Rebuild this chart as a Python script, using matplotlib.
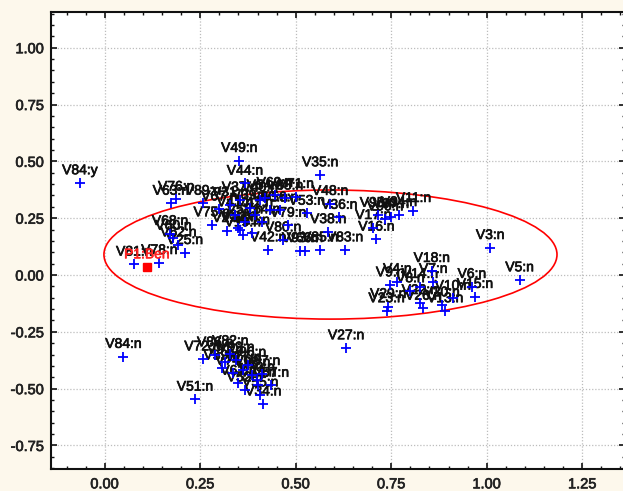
import matplotlib
matplotlib.use("Agg")
import matplotlib.pyplot as plt
import matplotlib.patheffects as pe
from matplotlib.patches import Ellipse
from matplotlib.ticker import MultipleLocator, FormatStrFormatter

plt.rcParams['font.family'] = ['Liberation Sans', 'DejaVu Sans']

# Active variable coordinates (dimension 1, dimension 2)
var_labels = [
    "V84:y", "V84:n", "V51:n", "V72:n", "V34:n", "V81:n", "V78:n", "V27:n",
    "V3:n", "V5:n", "V49:n", "V44:n", "V35:n", "V11:n", "V53:n", "V88:n",
    "V48:n", "V79:n", "V36:n", "V38:n", "V42:n", "V83:n", "V80:n", "V93:n",
    "V66:n", "V85:n", "V16:n", "V90:n", "V97:n", "V17:n", "V94:n", "V95:n",
    "V76:n", "V63:n", "V89:n", "V75:n", "V68:n", "V62:n", "V60:n", "V25:n",
    "V2:n", "V12:n", "V19:n", "V21:n", "V30:n", "V31:n", "V37:n", "V39:n",
    "V40:n", "V41:n", "V47:n", "V50:n", "V54:n", "V56:n", "V58:n", "V64:n",
    "V67:n", "V69:n", "V71:n",
    "V18:n", "V7:n", "V14:n", "V4:n", "V9:n", "V6:n", "V15:n", "V10:n",
    "V13:n", "V20:n", "V26:n", "V22:n", "V23:n", "V29:n", "V8:n",
    "V82:n", "V87:n", "V57:n", "V59:n", "V61:n", "V70:n", "V73:n", "V74:n",
    "V77:n", "V86:n", "V91:n", "V96:n", "V98:n", "V99:n", "V52:n", "V55:n",
]
dim1 = [
    -0.065, 0.049, 0.236, 0.256, 0.415, 0.077, 0.143, 0.632,
    1.009, 1.086, 0.352, 0.367, 0.564, 0.808, 0.529, 0.472,
    0.590, 0.480, 0.614, 0.585, 0.428, 0.629, 0.467, 0.511,
    0.524, 0.564, 0.711, 0.734, 0.749, 0.703, 0.770, 0.715,
    0.187, 0.173, 0.257, 0.280, 0.171, 0.193, 0.180, 0.210,
    0.319, 0.354, 0.361, 0.385, 0.349, 0.328, 0.354, 0.380,
    0.406, 0.341, 0.393, 0.432, 0.419, 0.459, 0.367, 0.412,
    0.300, 0.445, 0.500,
    0.856, 0.860, 0.825, 0.766, 0.747, 0.961, 0.969, 0.911,
    0.891, 0.882, 0.834, 0.825, 0.738, 0.742, 0.800,
    0.329, 0.412, 0.435, 0.306, 0.350, 0.398, 0.402, 0.337,
    0.363, 0.289, 0.315, 0.375, 0.386, 0.344, 0.367, 0.407,
]
dim2 = [
    0.405, -0.359, -0.547, -0.370, -0.568, 0.047, 0.054, -0.321,
    0.120, -0.022, 0.503, 0.403, 0.440, 0.283, 0.271, 0.338,
    0.314, 0.218, 0.253, 0.190, 0.110, 0.110, 0.154, 0.107,
    0.107, 0.110, 0.157, 0.246, 0.257, 0.208, 0.265, 0.262,
    0.333, 0.315, 0.315, 0.220, 0.182, 0.132, 0.161, 0.098,
    0.195, 0.198, 0.176, 0.185, 0.207, 0.308, 0.330, 0.295,
    0.330, 0.264, 0.264, 0.286, 0.339, 0.286, 0.233, 0.233,
    0.290, 0.350, 0.345,
    0.019, -0.029, -0.051, -0.029, -0.044, -0.051, -0.095, -0.103,
    -0.158, -0.132, -0.147, -0.122, -0.158, -0.139, -0.070,
    -0.346, -0.434, -0.486, -0.410, -0.477, -0.462, -0.484, -0.432,
    -0.418, -0.352, -0.383, -0.396, -0.440, -0.374, -0.506, -0.528,
]

# Supplementary point
supp_labels = ["P1:Ben"]
supp_dim1 = [0.110]
supp_dim2 = [0.035]

# Ellipse around the main group
ell_center = (0.591, 0.090)
ell_width = 1.186
ell_height = 0.568

x_ticks = [0.00, 0.25, 0.50, 0.75, 1.00, 1.25]
y_ticks = [-0.75, -0.50, -0.25, 0.00, 0.25, 0.50, 0.75, 1.00]

W, H = 623, 491
fig = plt.figure(figsize=(W / 100, H / 100), dpi=100, facecolor="#fdf8ec")
ax = fig.add_axes([51 / W, (H - 469) / H, (624.5 - 51) / W, (469 - 12.5) / H])
ax.set_facecolor("white")

ax.set_xlim(-0.1406, 1.3607)
ax.set_ylim(-0.8535, 1.1549)

ax.set_xticks(x_ticks)
ax.set_yticks(y_ticks)
ax.xaxis.set_minor_locator(MultipleLocator(0.05))
ax.yaxis.set_minor_locator(MultipleLocator(0.05))
ax.xaxis.set_major_formatter(FormatStrFormatter("%.2f"))
ax.yaxis.set_major_formatter(FormatStrFormatter("%.2f"))

ax.grid(True, which="major", color="#bdbdbd", linestyle=(0, (1, 1.5)), linewidth=0.9)
ax.set_axisbelow(True)

for s in ax.spines.values():
    s.set_linewidth(1.5)
    s.set_color("#111111")

ax.tick_params(which="both", direction="in", top=True, right=True,
               colors="#111111", labelcolor="#222222", labelsize=10.5)
ax.tick_params(which="major", length=4, width=1.2)
ax.tick_params(which="minor", length=2.5, width=1.0)
ax.tick_params(axis="y", pad=5)
ax.tick_params(axis="x", pad=6)

bold_dark = [pe.withStroke(linewidth=0.5, foreground="#222222")]
for t in ax.get_xticklabels() + ax.get_yticklabels():
    t.set_path_effects(bold_dark)

ax.add_patch(Ellipse(ell_center, ell_width, ell_height, fill=False,
                     edgecolor="#ff0000", linewidth=1.2, zorder=3))

label_fx = [pe.withStroke(linewidth=0.5, foreground="#111111")]
for lab, xv, yv in zip(var_labels, dim1, dim2):
    ax.annotate(lab, (xv, yv), xytext=(0, 6.3), textcoords="offset points",
                ha="center", va="baseline", fontsize=10, color="#111111",
                path_effects=label_fx, zorder=4)
ax.plot(dim1, dim2, linestyle="none", marker="+", markersize=7,
        markeredgewidth=1.3, color="#0000ff", zorder=5)

supp_fx = [pe.withStroke(linewidth=0.4, foreground="#ff2020")]
for lab, xv, yv in zip(supp_labels, supp_dim1, supp_dim2):
    ax.annotate(lab, (xv, yv), xytext=(0, 6.3), textcoords="offset points",
                ha="center", va="baseline", fontsize=10, color="#ff2020",
                path_effects=supp_fx, zorder=6)
ax.plot(supp_dim1, supp_dim2, linestyle="none", marker="s", markersize=6,
        color="#ff0000", zorder=6)

fig.savefig("out.png", dpi=100, facecolor=fig.get_facecolor())
